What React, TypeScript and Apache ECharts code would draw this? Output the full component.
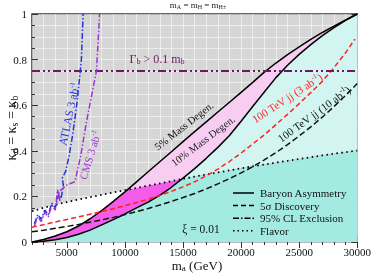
import React, { useEffect, useRef } from 'react';
import * as echarts from 'echarts';

// ---- data ----
const massX = [2000, 3000, 4000, 5000, 6000, 7000, 8000, 9000, 10000, 11000, 12000, 13000, 14000, 15000, 16000, 17000, 18000, 19000, 20000, 21000, 22000, 23000, 24000, 25000, 26000, 27000, 28000, 29000, 30000];
const degen5 = [0.0, 0.011, 0.026, 0.045, 0.07, 0.102, 0.138, 0.178, 0.22, 0.264, 0.308, 0.352, 0.396, 0.44, 0.484, 0.527, 0.57, 0.613, 0.656, 0.70, 0.745, 0.785, 0.822, 0.856, 0.889, 0.919, 0.947, 0.974, 1.0];
const degen10 = [0.0, 0.003, 0.01, 0.02, 0.034, 0.052, 0.075, 0.098, 0.123, 0.15, 0.175, 0.205, 0.24, 0.28, 0.322, 0.367, 0.415, 0.467, 0.53, 0.594, 0.658, 0.721, 0.775, 0.823, 0.866, 0.905, 0.94, 0.972, 1.0];
const flavor = [0.135, 0.15, 0.163, 0.175, 0.186, 0.197, 0.207, 0.217, 0.227, 0.237, 0.247, 0.257, 0.267, 0.277, 0.287, 0.296, 0.305, 0.314, 0.323, 0.332, 0.34, 0.348, 0.356, 0.364, 0.372, 0.38, 0.387, 0.394, 0.401];
const jj10 = [0.045, 0.052, 0.06, 0.068, 0.077, 0.087, 0.097, 0.108, 0.12, 0.133, 0.147, 0.162, 0.178, 0.195, 0.213, 0.233, 0.255, 0.278, 0.303, 0.33, 0.36, 0.392, 0.427, 0.465, 0.505, 0.548, 0.594, 0.643, 0.695];
const jj3X = [2000, 3000, 4000, 5000, 6000, 7000, 8000, 9000, 10000, 11000, 12000, 13000, 14000, 15000, 16000, 17000, 18000, 19000, 20000, 21000, 22000, 23000, 24000, 25000, 26000, 27000, 28000, 29000, 29800];
const jj3 = [0.065, 0.076, 0.088, 0.099, 0.11, 0.122, 0.134, 0.146, 0.159, 0.173, 0.188, 0.204, 0.222, 0.242, 0.264, 0.29, 0.32, 0.353, 0.39, 0.43, 0.47, 0.515, 0.56, 0.607, 0.655, 0.705, 0.765, 0.83, 0.89];
const atlasX = [2200, 2500, 2800, 3100, 3400, 3700, 4000, 4300, 4500, 4700, 4600, 4900, 5200, 5500, 5900, 6250, 6400];
const atlasY = [0.08, 0.12, 0.10, 0.14, 0.12, 0.17, 0.15, 0.21, 0.19, 0.25, 0.28, 0.31, 0.38, 0.47, 0.62, 0.80, 1.0];
const cmsX = [2200, 2500, 2800, 3100, 3400, 3700, 4000, 4200, 4400, 4300, 5000, 5700, 6200, 6700, 7200, 7550, 7820];
const cmsY = [0.07, 0.11, 0.09, 0.13, 0.11, 0.16, 0.14, 0.23, 0.18, 0.22, 0.25, 0.265, 0.38, 0.53, 0.66, 0.75, 1.0];
const gammaLimit = 0.75;
const xMajorTicks = [5000, 10000, 15000, 20000, 25000, 30000];
const yMajorTicks = [0, 0.2, 0.4, 0.6, 0.8, 1];
const legendLabels = ['Baryon Asymmetry', '5σ Discovery', '95% CL Exclusion', 'Flavor'];

const SERIF = '"Liberation Serif", "DejaVu Serif", serif';

function pairs(xs: number[], ys: number[]) {
  return xs.map((x, i) => [x, ys[i]]);
}

function minCurve(xs: number[], a: number[], b: number[]) {
  const out: number[][] = [];
  for (let i = 0; i < xs.length; i++) {
    out.push([xs[i], Math.min(a[i], b[i])]);
    if (i < xs.length - 1) {
      const da = a[i] - b[i];
      const db = a[i + 1] - b[i + 1];
      if (da * db < 0) {
        const t = da / (da - db);
        out.push([xs[i] + t * (xs[i + 1] - xs[i]), a[i] + t * (a[i + 1] - a[i])]);
      }
    }
  }
  return out;
}

function areaSeries(pts: number[][], color: string) {
  return {
    type: 'custom',
    coordinateSystem: 'cartesian2d',
    silent: true,
    clip: true,
    z: 1,
    data: [[pts[0][0], 0]],
    encode: { x: 0, y: 1 },
    renderItem: (_params: any, api: any) => {
      const poly = [[pts[0][0], 0], ...pts, [pts[pts.length - 1][0], 0]].map((p) => api.coord(p));
      return { type: 'polygon', shape: { points: poly }, style: { fill: color } };
    },
  };
}

function lineSeries(data: number[][], color: string, width: number, dash: any) {
  return {
    type: 'line',
    data,
    symbol: 'none',
    showSymbol: false,
    silent: true,
    clip: true,
    z: 3,
    lineStyle: { color, width, type: dash },
  };
}

const rich = (size: number, color: string) => ({
  i: { fontSize: size, fontFamily: SERIF, fill: color },
  s: { fontSize: Math.round(size * 0.68), fontFamily: SERIF, fill: color, padding: [Math.round(size * 0.45), 0, 0, 0] },
  u: { fontSize: Math.round(size * 0.62), fontFamily: SERIF, fill: color, padding: [0, 0, Math.round(size * 0.5), 0] },
});

function txt(text: string, x: number, y: number, size: number, color: string, rotDeg = 0) {
  return {
    type: 'text',
    x,
    y,
    rotation: (rotDeg * Math.PI) / 180,
    z: 10,
    style: {
      text,
      rich: rich(size, color),
      fontSize: size,
      fontFamily: SERIF,
      fill: color,
      align: 'center',
      verticalAlign: 'middle',
    },
  };
}

export default function App() {
  const ref = useRef<HTMLDivElement>(null);
  useEffect(() => {
    if (!ref.current) return;
    const chart = echarts.init(ref.current, null, { renderer: 'svg' });

    const axisCommon = {
      type: 'value',
      axisLine: { show: false },
      splitLine: { show: false },
      axisLabel: { show: false },
    };
    const tickStyle = { color: '#333', width: 1 };

    const xAxes = [
      {
        ...axisCommon,
        min: 2000, max: 30000, interval: 1000, position: 'bottom',
        axisTick: { inside: true, length: 3, lineStyle: tickStyle },
        axisLabel: {
          show: true, fontFamily: SERIF, fontSize: 11, color: '#111', margin: 4,
          formatter: (v: number) => (xMajorTicks.includes(v) ? String(v) : ''),
        },
        splitLine: { show: true, lineStyle: { color: 'rgba(255,255,255,0.55)', width: 1 } },
      },
      { ...axisCommon, min: 2000, max: 30000, position: 'bottom', axisTick: { inside: true, length: 6, customValues: xMajorTicks, lineStyle: tickStyle } },
      { ...axisCommon, min: 2000, max: 30000, interval: 1000, position: 'top', axisTick: { inside: true, length: 3, lineStyle: tickStyle } },
      { ...axisCommon, min: 2000, max: 30000, position: 'top', axisTick: { inside: true, length: 6, customValues: xMajorTicks, lineStyle: tickStyle } },
    ];
    const yAxes = [
      {
        ...axisCommon,
        min: 0, max: 1, interval: 0.05, position: 'left',
        axisTick: { inside: true, length: 3, lineStyle: tickStyle },
        axisLabel: {
          show: true, fontFamily: SERIF, fontSize: 11, color: '#111', margin: 5,
          formatter: (v: number) => {
            const m = yMajorTicks.find((t) => Math.abs(t - v) < 1e-6);
            return m === undefined ? '' : m === 0 || m === 1 ? String(m) : m.toFixed(1);
          },
        },
        splitLine: { show: true, lineStyle: { color: 'rgba(255,255,255,0.55)', width: 1 } },
      },
      { ...axisCommon, min: 0, max: 1, position: 'left', axisTick: { inside: true, length: 6, customValues: yMajorTicks, lineStyle: tickStyle } },
      { ...axisCommon, min: 0, max: 1, interval: 0.05, position: 'right', axisTick: { inside: true, length: 3, lineStyle: tickStyle } },
      { ...axisCommon, min: 0, max: 1, position: 'right', axisTick: { inside: true, length: 6, customValues: yMajorTicks, lineStyle: tickStyle } },
    ];

    const legendDash: any[] = ['solid', [5, 3], [6, 2, 1.5, 2], [1.5, 3]];
    const legendGraphics: any[] = [];
    legendLabels.forEach((lab, i) => {
      const y = 193 + i * 12.6;
      legendGraphics.push({
        type: 'line', z: 10,
        shape: { x1: 233, y1: y, x2: 254, y2: y },
        style: { stroke: '#000', lineWidth: 1.5, lineDash: legendDash[i] === 'solid' ? null : legendDash[i] },
      });
      legendGraphics.push({
        type: 'text', z: 10, x: 260, y,
        style: { text: lab, fontFamily: SERIF, fontSize: 11, fill: '#111', align: 'left', verticalAlign: 'middle' },
      });
    });

    const option: any = {
      animation: false,
      grid: { left: 32, right: 15, top: 14, bottom: 31, show: true, backgroundColor: '#d6d6d6', borderColor: '#333', borderWidth: 1.5 },
      xAxis: xAxes,
      yAxis: yAxes,
      series: [
        areaSeries(pairs(massX, degen5), '#f7cdf2'),
        areaSeries(pairs(massX, degen10), '#d3f5f1'),
        areaSeries(pairs(massX, flavor), '#ffffff'),
        areaSeries(minCurve(massX, flavor, degen5), '#f25ce8'),
        areaSeries(minCurve(massX, flavor, degen10), '#a3ebe1'),
        lineSeries(pairs(massX, degen5), '#000', 1.5, 'solid'),
        lineSeries(pairs(massX, degen10), '#000', 1.5, 'solid'),
        lineSeries(pairs(massX, flavor), '#000', 1.8, [1.5, 3.5]),
        lineSeries(pairs(jj3X, jj3), '#ff2020', 1.5, [5, 3]),
        lineSeries(pairs(massX, jj10), '#111', 1.5, [6, 3]),
        lineSeries([[massX[0], gammaLimit], [massX[massX.length - 1], gammaLimit]], '#6b1b5b', 2, [8, 3, 2, 3, 2, 3]),
        lineSeries(pairs(atlasX, atlasY), '#2233e0', 1.5, [6, 2, 1.5, 2]),
        lineSeries(pairs(cmsX, cmsY), '#9b35d0', 1.5, [6, 2, 1.5, 2]),
      ],
      graphic: [
        txt('{i|m}{s|A}{i| = m}{s|H}{i| = m}{s|H±}', 198, 5, 9, '#222'),
        txt('{i|κ}{s|d}{i| = κ}{s|s}{i| = κ}{s|b}', 11, 128, 14, '#111', 90),
        txt('{i|m}{s|a}{i| (GeV)}', 197, 265, 13, '#111'),
        txt('{i|Γ}{s|b}{i| > 0.1 m}{s|b}', 157, 59, 12, '#6b1b5b'),
        txt('{i|5% Mass Degen.}', 184, 126, 10.5, '#111', 38),
        txt('{i|10% Mass Degen.}', 203, 141, 10.5, '#222', 37),
        txt('{i|100 TeV jj (3 ab}{u|-1}{i|)}', 287, 98, 11, '#ff2020', 33),
        txt('{i|100 TeV jj (10 ab}{u|-1}{i|)}', 314, 114, 11, '#111', 36),
        txt('{i|ATLAS 3 ab}{u|-1}', 69, 114, 11.5, '#2233e0', 78),
        txt('{i|CMS 3 ab}{u|-1}', 90, 155, 11, '#9b35d0', 73),
        txt('{i|ξ = 0.01}', 201, 229, 11.5, '#111'),
        ...legendGraphics,
      ],
    };
    chart.setOption(option);
    return () => chart.dispose();
  }, []);
  return <div ref={ref} style={{ position: 'fixed', left: 0, top: 0, width: 374, height: 273 }} />;
}
